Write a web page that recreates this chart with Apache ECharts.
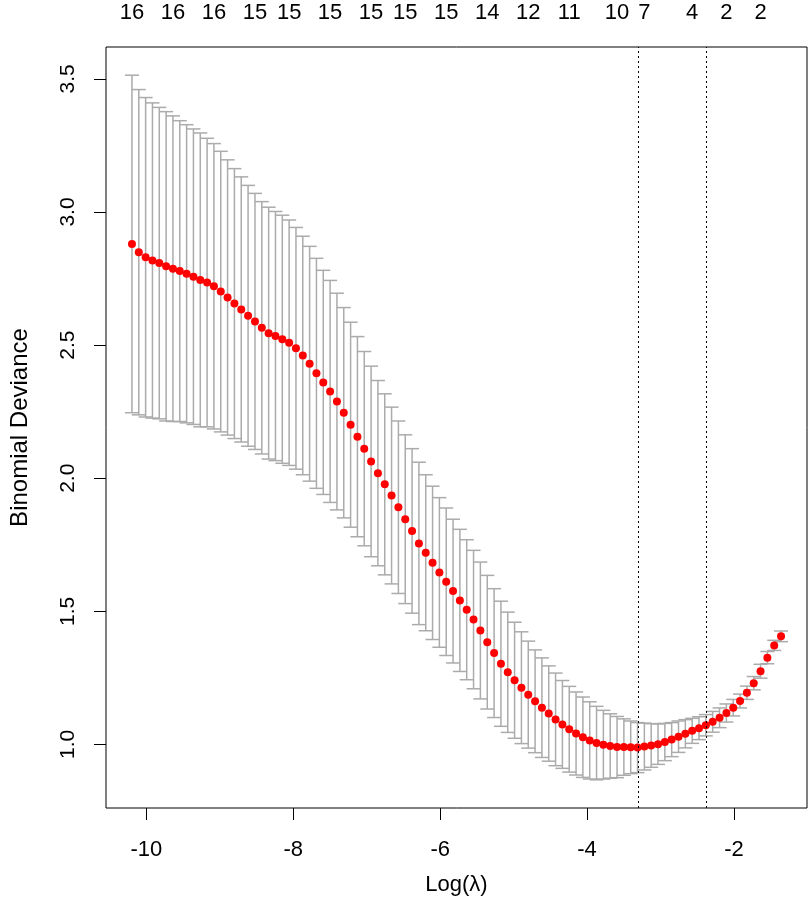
<!DOCTYPE html>
<html>
<head>
<meta charset="utf-8">
<title>cv.glmnet deviance</title>
<script src="https://cdn.jsdelivr.net/npm/echarts@6/dist/echarts.min.js"></script>
<style>
  html, body { margin: 0; padding: 0; background: #fff; }
  #chart { width: 810px; height: 904px; }
</style>
</head>
<body>
<div id="chart"></div>
<script>
// log(lambda) of each fitted model
var logLambda = [
    -10.197, -10.104, -10.011, -9.918, -9.825, -9.732, -9.639, -9.546, -9.453, -9.360,
    -9.267, -9.174, -9.081, -8.988, -8.895, -8.802, -8.709, -8.616, -8.522, -8.429,
    -8.336, -8.243, -8.150, -8.057, -7.964, -7.871, -7.778, -7.685, -7.592, -7.499,
    -7.406, -7.313, -7.220, -7.127, -7.034, -6.941, -6.848, -6.755, -6.662, -6.569,
    -6.476, -6.383, -6.290, -6.197, -6.104, -6.011, -5.918, -5.825, -5.732, -5.639,
    -5.546, -5.453, -5.359, -5.266, -5.173, -5.080, -4.987, -4.894, -4.801, -4.708,
    -4.615, -4.522, -4.429, -4.336, -4.243, -4.150, -4.057, -3.964, -3.871, -3.778,
    -3.685, -3.592, -3.499, -3.406, -3.313, -3.220, -3.127, -3.034, -2.941, -2.848,
    -2.755, -2.662, -2.569, -2.476, -2.383, -2.290, -2.196, -2.103, -2.010, -1.917,
    -1.824, -1.731, -1.638, -1.545, -1.452, -1.359
];

// mean cross-validated deviance
var cvm = [
    2.880, 2.849, 2.830, 2.818, 2.808, 2.796, 2.787, 2.778, 2.768, 2.757,
    2.745, 2.735, 2.721, 2.701, 2.679, 2.656, 2.634, 2.610, 2.589, 2.565,
    2.545, 2.534, 2.522, 2.509, 2.488, 2.461, 2.430, 2.394, 2.360, 2.326,
    2.288, 2.246, 2.201, 2.156, 2.111, 2.063, 2.019, 1.977, 1.935, 1.891,
    1.846, 1.802, 1.755, 1.720, 1.682, 1.646, 1.611, 1.576, 1.541, 1.506,
    1.469, 1.428, 1.384, 1.343, 1.303, 1.271, 1.241, 1.213, 1.187, 1.162,
    1.138, 1.116, 1.094, 1.075, 1.057, 1.041, 1.027, 1.015, 1.005, 0.999,
    0.994, 0.990, 0.990, 0.989, 0.988, 0.992, 0.996, 1.001, 1.009, 1.018,
    1.029, 1.040, 1.051, 1.061, 1.072, 1.085, 1.100, 1.118, 1.138, 1.163,
    1.194, 1.230, 1.275, 1.326, 1.372, 1.406
];

// standard error of cvm (half length of each bar)
var cvsd = [
    0.634, 0.611, 0.600, 0.592, 0.585, 0.581, 0.574, 0.565, 0.560, 0.555,
    0.552, 0.542, 0.536, 0.527, 0.517, 0.507, 0.498, 0.490, 0.481, 0.474,
    0.473, 0.468, 0.466, 0.461, 0.454, 0.448, 0.441, 0.432, 0.421, 0.417,
    0.407, 0.395, 0.385, 0.376, 0.365, 0.358, 0.348, 0.340, 0.332, 0.324,
    0.317, 0.309, 0.305, 0.293, 0.288, 0.281, 0.277, 0.270, 0.267, 0.263,
    0.260, 0.257, 0.251, 0.242, 0.235, 0.226, 0.218, 0.210, 0.201, 0.193,
    0.187, 0.179, 0.174, 0.165, 0.161, 0.156, 0.151, 0.145, 0.138, 0.129,
    0.121, 0.115, 0.106, 0.099, 0.094, 0.088, 0.082, 0.076, 0.070, 0.064,
    0.059, 0.053, 0.047, 0.043, 0.040, 0.039, 0.037, 0.034, 0.031, 0.026,
    0.025, 0.025, 0.026, 0.023, 0.019, 0.020
];

// number of non-zero coefficients printed along the top
var nzIndex = [0, 6, 12, 18, 23, 29, 35, 40, 46, 52, 58, 64, 71, 75, 82, 87, 92];
var nzLabels = ['16', '16', '16', '15', '15', '15', '15', '15', '15', '14', '12', '11', '10', '7', '4', '2', '2'];

var xTicks = [-10, -8, -6, -4, -2];
var yTicks = [1.0, 1.5, 2.0, 2.5, 3.0, 3.5];

var minIndex = 74;   // lambda.min
var seIndex = 84;    // lambda.1se

var textFont = '"Liberation Sans", Arial, sans-serif';

function padRange(values) {
    // same 4% padding R uses for its plot region
    var lo = Math.min.apply(null, values);
    var hi = Math.max.apply(null, values);
    var pad = (hi - lo) * 0.04;
    return [lo - pad, hi + pad];
}

function renderBar(params, api) {
    var x = api.value(0);
    var top = api.coord([x, api.value(1)]);
    var bot = api.coord([x, api.value(2)]);
    var w = 7;
    var style = { stroke: '#ababab', lineWidth: 1.5 };
    return {
        type: 'group',
        children: [
            { type: 'line', shape: { x1: top[0], y1: top[1], x2: bot[0], y2: bot[1] }, style: style },
            { type: 'line', shape: { x1: top[0] - w, y1: top[1], x2: top[0] + w, y2: top[1] }, style: style },
            { type: 'line', shape: { x1: bot[0] - w, y1: bot[1], x2: bot[0] + w, y2: bot[1] }, style: style }
        ]
    };
}

function init() {
    var chart = echarts.init(document.getElementById('chart'), null, { renderer: 'canvas' });

    var bars = [];
    var points = [];
    var upper = [];
    var lower = [];
    for (var i = 0; i < logLambda.length; i++) {
        upper.push(cvm[i] + cvsd[i]);
        lower.push(cvm[i] - cvsd[i]);
        bars.push([logLambda[i], cvm[i] + cvsd[i], cvm[i] - cvsd[i]]);
        points.push([logLambda[i], cvm[i]]);
    }
    var xr = padRange(logLambda);
    var yr = padRange(upper.concat(lower));

    var nzAt = nzIndex.map(function (k) { return logLambda[k]; });

    var option = {
        animation: false,
        backgroundColor: '#fff',
        grid: {
            left: 96, right: 3, top: 47, bottom: 96,
            show: true, borderColor: '#000', borderWidth: 1, backgroundColor: 'transparent'
        },
        xAxis: [{
            type: 'value',
            min: xr[0], max: xr[1],
            axisLine: { show: false },
            splitLine: { show: false },
            axisTick: { show: true, customValues: xTicks, length: 12, lineStyle: { color: '#000', width: 1 } },
            axisLabel: {
                customValues: xTicks, margin: 31, color: '#000',
                fontSize: 22, fontFamily: textFont
            },
            name: 'Log(\u03bb)',
            nameLocation: 'middle',
            nameGap: 66,
            nameTextStyle: { fontSize: 22, fontFamily: textFont, color: '#000' }
        }, {
            type: 'value',
            position: 'top',
            min: xr[0], max: xr[1],
            axisLine: { show: false },
            axisTick: { show: false },
            splitLine: { show: false },
            axisLabel: {
                customValues: nzAt, margin: 23, color: '#000',
                fontSize: 22, fontFamily: textFont,
                formatter: function (v) {
                    for (var k = 0; k < nzAt.length; k++) {
                        if (Math.abs(nzAt[k] - v) < 1e-6) return nzLabels[k];
                    }
                    return '';
                }
            }
        }],
        yAxis: {
            type: 'value',
            min: yr[0], max: yr[1],
            axisLine: { show: false },
            splitLine: { show: false },
            axisTick: { show: true, customValues: yTicks, length: 12, lineStyle: { color: '#000', width: 1 } },
            axisLabel: {
                customValues: yTicks, rotate: 90, margin: 27, color: '#000',
                fontSize: 21, fontFamily: textFont,
                formatter: function (v) { return v.toFixed(1); }
            },
            name: 'Binomial Deviance',
            nameLocation: 'middle',
            nameRotate: 90,
            nameGap: 74,
            nameTextStyle: { fontSize: 24, fontFamily: textFont, color: '#000' }
        },
        series: [{
            type: 'custom',
            renderItem: renderBar,
            data: bars,
            encode: { x: 0, y: [1, 2] },
            z: 2
        }, {
            type: 'scatter',
            data: points,
            symbol: 'circle',
            symbolSize: 8,
            itemStyle: { color: '#ff0000', opacity: 1 },
            z: 3,
            markLine: {
                silent: true,
                symbol: 'none',
                label: { show: false },
                lineStyle: { color: '#000', width: 1, type: [2, 3], opacity: 1 },
                data: [{ xAxis: logLambda[minIndex] }, { xAxis: logLambda[seIndex] }]
            }
        }]
    };
    chart.setOption(option);
}

window.addEventListener('load', init, false);
</script>
</body>
</html>
